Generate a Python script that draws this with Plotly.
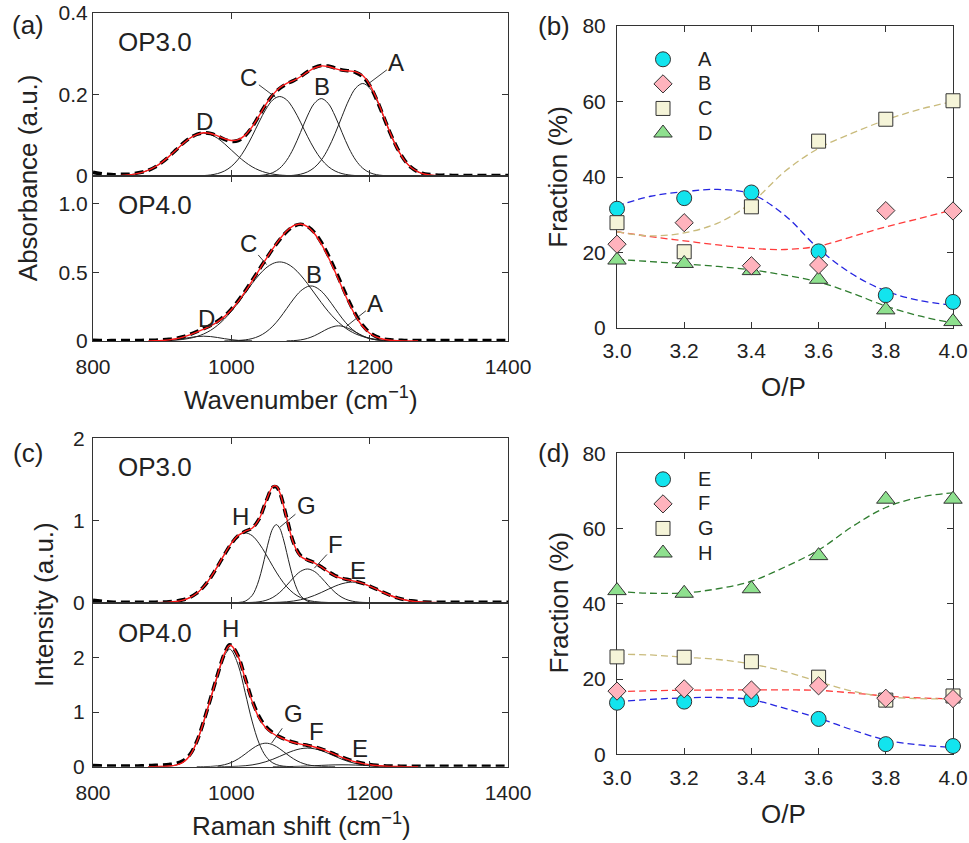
import plotly.graph_objects as go

W, H = 969, 843
FONT = "Liberation Sans, Arial, Helvetica, sans-serif"
INK = "#222222"

# ---------------- (a) IR absorbance, OP3.0 ----------------
wn_fit_a3 = [840, 850, 860, 870, 880, 890, 900, 910, 920, 930, 940, 950, 960, 970, 980, 990, 1000, 1010, 1020, 1030,
             1040, 1050, 1060, 1070, 1080, 1090, 1100, 1110, 1120, 1130, 1140, 1150, 1160, 1170, 1180, 1190, 1200,
             1210, 1220, 1230, 1240, 1250, 1260, 1270, 1280, 1290, 1300]
fit_a3 = [0.0012, 0.0024, 0.0046, 0.0084, 0.0142, 0.0227, 0.0341, 0.0481, 0.0637, 0.0793, 0.0927, 0.1017, 0.106,
          0.1043, 0.0986, 0.0915, 0.0871, 0.0892, 0.1003, 0.1205, 0.1475, 0.1756, 0.1997, 0.2165, 0.2272, 0.2341,
          0.2436, 0.2548, 0.265, 0.2701, 0.2686, 0.2635, 0.2591, 0.2578, 0.2557, 0.2465, 0.2244, 0.19, 0.1473,
          0.1043, 0.067, 0.039, 0.0207, 0.01, 0.0044, 0.0017, 0.0006]
wn_meas_a = [800, 810, 820, 830, 840, 850, 860, 870, 880, 890, 900, 910, 920, 930, 940, 950, 960, 970, 980, 990,
             1000, 1010, 1020, 1030, 1040, 1050, 1060, 1070, 1080, 1090, 1100, 1110, 1120, 1130, 1140, 1150, 1160,
             1170, 1180, 1190, 1200, 1210, 1220, 1230, 1240, 1250, 1260, 1270, 1280, 1290, 1300, 1310, 1320, 1330,
             1340, 1350, 1360, 1370, 1380, 1390, 1400]
meas_a3 = [0.009, 0.006, 0.004, 0.003, 0.004, 0.004, 0.006, 0.009, 0.014, 0.022, 0.034, 0.048, 0.064, 0.080, 0.093,
           0.102, 0.106, 0.104, 0.098, 0.090, 0.085, 0.087, 0.099, 0.120, 0.148, 0.176, 0.199, 0.215, 0.226, 0.234,
           0.244, 0.256, 0.266, 0.271, 0.270, 0.265, 0.260, 0.258, 0.254, 0.244, 0.222, 0.188, 0.146, 0.104, 0.068,
           0.040, 0.021, 0.010, 0.005, 0.003, 0.002, 0.002, 0.001, 0.001, 0.001, 0.001, 0.001, 0.001, 0.001, 0.001,
           0.001]
wn_a3_D = [840, 850, 860, 870, 880, 890, 900, 910, 920, 930, 940, 950, 960, 970, 980, 990, 1000, 1010, 1020, 1030,
           1040, 1050, 1060, 1070, 1080]
a3_D = [0.0012, 0.0024, 0.0046, 0.0084, 0.0142, 0.0227, 0.0341, 0.0481, 0.0637, 0.0793, 0.0927, 0.1017, 0.105,
        0.1017, 0.0927, 0.0793, 0.0637, 0.0481, 0.0341, 0.0227, 0.0142, 0.0084, 0.0046, 0.0024, 0.0012]
wn_a3_C = [960, 970, 980, 990, 1000, 1010, 1020, 1030, 1040, 1050, 1060, 1070, 1080, 1090, 1100, 1110, 1120, 1130,
           1140, 1150, 1160, 1170, 1180]
a3_C = [0.001, 0.0026, 0.0059, 0.0122, 0.0234, 0.0411, 0.0661, 0.0975, 0.1322, 0.164, 0.1868, 0.195, 0.1868, 0.164,
        0.1322, 0.0975, 0.0661, 0.0411, 0.0234, 0.0122, 0.0059, 0.0026, 0.001]
wn_a3_B = [1040, 1050, 1060, 1070, 1080, 1090, 1100, 1110, 1120, 1130, 1140, 1150, 1160, 1170, 1180, 1190, 1200,
           1210, 1220]
a3_B = [0.0011, 0.0032, 0.0083, 0.0191, 0.0386, 0.0684, 0.107, 0.1473, 0.1782, 0.19, 0.1782, 0.1473, 0.107, 0.0684,
        0.0386, 0.0191, 0.0083, 0.0032, 0.0011]
wn_a3_A = [1080, 1090, 1100, 1110, 1120, 1130, 1140, 1150, 1160, 1170, 1180, 1190, 1200, 1210, 1220, 1230, 1240,
           1250, 1260, 1270, 1280, 1290, 1300]
a3_A = [0.0006, 0.0017, 0.0044, 0.01, 0.0207, 0.039, 0.067, 0.104, 0.1462, 0.1868, 0.2161, 0.227, 0.2161, 0.1868,
        0.1462, 0.104, 0.067, 0.039, 0.0207, 0.01, 0.0044, 0.0017, 0.0006]

# ---------------- (a) IR absorbance, OP4.0 ----------------
wn_fit_a4 = [880, 890, 900, 910, 920, 930, 940, 950, 960, 970, 980, 990, 1000, 1010, 1020, 1030, 1040, 1050, 1060,
             1070, 1080, 1090, 1100, 1110, 1120, 1130, 1140, 1150, 1160, 1170, 1180, 1190, 1200, 1210, 1220, 1230,
             1240, 1250, 1260, 1270]
fit_a4 = [0.0006, 0.0016, 0.0038, 0.0082, 0.0161, 0.0284, 0.045, 0.0646, 0.0861, 0.1099, 0.1395, 0.1774, 0.2266,
          0.2881, 0.3588, 0.4358, 0.5154, 0.5951, 0.6715, 0.7414, 0.7999, 0.8387, 0.8509, 0.832, 0.7823, 0.7067,
          0.6113, 0.5032, 0.388, 0.2761, 0.1794, 0.1054, 0.0561, 0.0275, 0.0126, 0.0056, 0.0023, 0.0009, 0.0004,
          0.0001]
meas_a4 = [0.006, 0.004, 0.002, 0.003, 0.004, 0.003, 0.003, 0.004, 0.005, 0.006, 0.008, 0.012, 0.019, 0.031, 0.048,
           0.068, 0.090, 0.114, 0.144, 0.182, 0.232, 0.294, 0.364, 0.440, 0.518, 0.596, 0.670, 0.738, 0.795, 0.834,
           0.849, 0.834, 0.790, 0.718, 0.625, 0.518, 0.403, 0.289, 0.190, 0.113, 0.061, 0.031, 0.015, 0.008, 0.005,
           0.004, 0.003, 0.003, 0.003, 0.003, 0.003, 0.003, 0.003, 0.003, 0.003, 0.003, 0.003, 0.003, 0.003, 0.003,
           0.003]
wn_a4_D = [890, 900, 910, 920, 930, 940, 950, 960, 970, 980, 990, 1000, 1010, 1020, 1030]
a4_D = [0.0007, 0.002, 0.0047, 0.0097, 0.017, 0.0254, 0.0323, 0.035, 0.0323, 0.0254, 0.017, 0.0097, 0.0047, 0.002,
        0.0007]
wn_a4_C = [890, 900, 910, 920, 930, 940, 950, 960, 970, 980, 990, 1000, 1010, 1020, 1030, 1040, 1050, 1060, 1070,
           1080, 1090, 1100, 1110, 1120, 1130, 1140, 1150, 1160, 1170, 1180, 1190, 1200, 1210, 1220, 1230, 1240, 1250]
a4_C = [0.0009, 0.0018, 0.0035, 0.0064, 0.0114, 0.0196, 0.0323, 0.0511, 0.0776, 0.1139, 0.1599, 0.2156, 0.28,
        0.3487, 0.4175, 0.4801, 0.5307, 0.5635, 0.575, 0.5635, 0.5307, 0.4801, 0.4175, 0.3487, 0.28, 0.2156, 0.1599,
        0.1139, 0.0776, 0.0511, 0.0323, 0.0196, 0.0114, 0.0064, 0.0035, 0.0018, 0.0009]
wn_a4_B = [990, 1000, 1010, 1020, 1030, 1040, 1050, 1060, 1070, 1080, 1090, 1100, 1110, 1115, 1120, 1130, 1140, 1150,
           1160, 1170, 1180, 1190, 1200, 1210, 1220, 1230, 1240]
a4_B = [0.0005, 0.0013, 0.0034, 0.0081, 0.0176, 0.0351, 0.0644, 0.108, 0.1664, 0.2356, 0.3052, 0.3628, 0.3956, 0.40,
        0.3956, 0.3628, 0.3052, 0.2356, 0.1664, 0.108, 0.0644, 0.0351, 0.0176, 0.0081, 0.0034, 0.0013, 0.0005]
wn_a4_A = [1080, 1090, 1100, 1110, 1120, 1130, 1140, 1150, 1155, 1160, 1170, 1180, 1190, 1200, 1210, 1220, 1230]
a4_A = [0.0008, 0.0028, 0.008, 0.0189, 0.038, 0.0639, 0.0905, 0.1077, 0.11, 0.1077, 0.0905, 0.0639, 0.038, 0.0189,
        0.008, 0.0028, 0.0008]

# ---------------- (c) Raman, OP3.0 ----------------
wn_fit_c3 = [870, 880, 890, 900, 910, 920, 930, 940, 950, 960, 970, 980, 990, 1000, 1010, 1020, 1030, 1040, 1050,
             1060, 1065, 1070, 1080, 1090, 1100, 1110, 1120, 1130, 1140, 1150, 1160, 1170, 1180, 1190, 1200, 1210,
             1220, 1230, 1240, 1250, 1260, 1270, 1280, 1290, 1300, 1310]
fit_c3 = [0.0001, 0.0003, 0.0009, 0.0024, 0.0061, 0.0144, 0.0312, 0.0624, 0.1148, 0.1955, 0.306, 0.442, 0.589, 0.722,
          0.8186, 0.8692, 0.9064, 1.0134, 1.2305, 1.4134, 1.4175, 1.3414, 1.029, 0.7206, 0.5658, 0.5173, 0.4857,
          0.4351, 0.3766, 0.3277, 0.2957, 0.2764, 0.2587, 0.2349, 0.2023, 0.1637, 0.124, 0.0878, 0.0579, 0.0357,
          0.0205, 0.011, 0.0055, 0.0026, 0.0011, 0.0005]
wn_meas_c3 = [800, 810, 820, 830, 840, 850, 860, 870, 880, 890, 900, 910, 920, 930, 940, 950, 960, 970, 980, 990,
              1000, 1010, 1020, 1030, 1040, 1050, 1060, 1065, 1070, 1080, 1090, 1100, 1110, 1120, 1130, 1140, 1150,
              1160, 1170, 1180, 1190, 1200, 1210, 1220, 1230, 1240, 1250, 1260, 1270, 1280, 1290, 1300, 1310, 1320,
              1330, 1340, 1350, 1360, 1370, 1380, 1390, 1400]
meas_c3 = [0.03, 0.02, 0.01, 0.006, 0.005, 0.004, 0.004, 0.004, 0.005, 0.006, 0.008, 0.012, 0.02, 0.036, 0.066,
           0.117, 0.196, 0.305, 0.44, 0.585, 0.718, 0.815, 0.868, 0.908, 1.016, 1.228, 1.405, 1.41, 1.34, 1.035,
           0.728, 0.575, 0.522, 0.488, 0.436, 0.378, 0.33, 0.298, 0.278, 0.259, 0.235, 0.202, 0.164, 0.125, 0.089,
           0.059, 0.037, 0.022, 0.013, 0.008, 0.006, 0.005, 0.004, 0.004, 0.004, 0.004, 0.004, 0.004, 0.004, 0.004,
           0.004, 0.004]
wn_c3_H = [890, 900, 910, 920, 930, 940, 950, 960, 970, 980, 990, 1000, 1010, 1020, 1030, 1040, 1050, 1060, 1070,
           1080, 1090, 1100, 1110, 1120, 1130, 1140, 1150]
c3_H = [0.0009, 0.0024, 0.0061, 0.0144, 0.0312, 0.0624, 0.1148, 0.1955, 0.306, 0.442, 0.589, 0.7217, 0.816, 0.85,
        0.816, 0.7217, 0.589, 0.442, 0.306, 0.1955, 0.1148, 0.0624, 0.0312, 0.0144, 0.0061, 0.0024, 0.0009]
wn_c3_G = [1010, 1020, 1030, 1035, 1040, 1045, 1050, 1055, 1060, 1065, 1070, 1075, 1080, 1085, 1090, 1095, 1100,
           1110, 1120]
c3_G = [0.0026, 0.0182, 0.0868, 0.1634, 0.2803, 0.435, 0.6118, 0.782, 0.9044, 0.95, 0.9044, 0.782, 0.6118, 0.435,
        0.2803, 0.1634, 0.0868, 0.0182, 0.0026]
wn_c3_F = [1010, 1020, 1030, 1040, 1050, 1060, 1070, 1080, 1090, 1100, 1110, 1120, 1130, 1140, 1150, 1160, 1170,
           1180, 1190, 1200, 1210]
c3_F = [0.0002, 0.001, 0.0036, 0.0109, 0.0286, 0.0644, 0.1255, 0.2107, 0.305, 0.3809, 0.41, 0.3809, 0.305, 0.2107,
        0.1255, 0.0644, 0.0286, 0.0109, 0.0036, 0.001, 0.0002]
wn_c3_E = [1040, 1050, 1060, 1070, 1080, 1090, 1100, 1110, 1120, 1130, 1140, 1150, 1160, 1170, 1175, 1180, 1190,
           1200, 1210, 1220, 1230, 1240, 1250, 1260, 1270, 1280, 1290, 1300, 1310]
c3_E = [0.0005, 0.0011, 0.0026, 0.0055, 0.011, 0.0205, 0.0357, 0.0579, 0.0878, 0.124, 0.1635, 0.2013, 0.2313, 0.2478,
        0.25, 0.2478, 0.2313, 0.2013, 0.1635, 0.124, 0.0878, 0.0579, 0.0357, 0.0205, 0.011, 0.0055, 0.0026, 0.0011,
        0.0005]

# ---------------- (c) Raman, OP4.0 ----------------
wn_fit_c4 = [880, 890, 900, 910, 920, 930, 940, 950, 960, 970, 980, 990, 997, 1000, 1010, 1020, 1030, 1040, 1050,
             1060, 1070, 1080, 1090, 1100, 1110, 1120, 1130, 1140, 1150, 1160, 1170, 1180, 1190, 1200, 1210, 1220,
             1230, 1240, 1250, 1260, 1270]
fit_c4 = [0.001, 0.002, 0.005, 0.012, 0.03, 0.08, 0.2, 0.4505, 0.8217, 1.2453, 1.6756, 2.0682, 2.216, 2.2145, 2.0094,
          1.6074, 1.1949, 0.8905, 0.7096, 0.6075, 0.5388, 0.4842, 0.4431, 0.4132, 0.389, 0.3609, 0.3234, 0.2762,
          0.2238, 0.1713, 0.1249, 0.0865, 0.0571, 0.0358, 0.0214, 0.0121, 0.0065, 0.0033, 0.0016, 0.0006, 0.0002]
wn_meas_c4 = [800, 810, 820, 830, 840, 850, 860, 870, 880, 890, 900, 910, 920, 930, 940, 950, 960, 970, 980, 990,
              997, 1000, 1010, 1020, 1030, 1040, 1050, 1060, 1070, 1080, 1090, 1100, 1110, 1120, 1130, 1140, 1150,
              1160, 1170, 1180, 1190, 1200, 1210, 1220, 1230, 1240, 1250, 1260, 1270, 1280, 1290, 1300, 1310, 1320,
              1330, 1340, 1350, 1360, 1370, 1380, 1390, 1400]
meas_c4 = [0.02, 0.015, 0.01, 0.01, 0.01, 0.01, 0.012, 0.015, 0.02, 0.025, 0.03, 0.04, 0.06, 0.11, 0.22, 0.46, 0.83,
           1.25, 1.68, 2.07, 2.23, 2.22, 2.02, 1.62, 1.22, 0.92, 0.73, 0.62, 0.545, 0.49, 0.447, 0.416, 0.39, 0.362,
           0.325, 0.279, 0.227, 0.176, 0.13, 0.091, 0.062, 0.04, 0.026, 0.018, 0.013, 0.01, 0.009, 0.008, 0.008,
           0.007, 0.007, 0.007, 0.007, 0.007, 0.007, 0.007, 0.007, 0.007, 0.007, 0.007, 0.007, 0.007]
wn_c4_H = [880, 890, 900, 910, 920, 930, 940, 950, 960, 970, 980, 990, 997, 1000, 1010, 1020, 1030, 1040, 1050, 1060,
           1070, 1080, 1090]
c4_H = [0.001, 0.002, 0.005, 0.012, 0.03, 0.08, 0.2, 0.45, 0.82, 1.24, 1.66, 2.03, 2.15, 2.133, 1.857, 1.358, 0.835,
        0.432, 0.188, 0.069, 0.021, 0.005, 0.001]
wn_c4_G = [950, 960, 970, 980, 990, 1000, 1010, 1020, 1030, 1040, 1050, 1060, 1070, 1080, 1090, 1100, 1110, 1120,
           1130, 1140, 1150]
c4_G = [0.0005, 0.0017, 0.0053, 0.0149, 0.0364, 0.0774, 0.1436, 0.2318, 0.3268, 0.4016, 0.43, 0.4016, 0.3268,
        0.2318, 0.1436, 0.0774, 0.0364, 0.0149, 0.0053, 0.0017, 0.0005]
wn_c4_F = [980, 990, 1000, 1010, 1020, 1030, 1040, 1050, 1060, 1070, 1080, 1090, 1100, 1110, 1120, 1130, 1140, 1150,
           1160, 1170, 1180, 1190, 1200, 1210, 1220, 1230, 1240]
c4_F = [0.0007, 0.0018, 0.0041, 0.0088, 0.0176, 0.0328, 0.0568, 0.0913, 0.1363, 0.1897, 0.2448, 0.2938, 0.3278, 0.34,
        0.3278, 0.2938, 0.2448, 0.1897, 0.1363, 0.0913, 0.0568, 0.0328, 0.0176, 0.0088, 0.0041, 0.0018, 0.0007]
wn_c4_E = [1060, 1070, 1080, 1090, 1100, 1110, 1120, 1130, 1140, 1150, 1160, 1170, 1180, 1190, 1200, 1210, 1220,
           1230, 1240, 1250, 1260]
c4_E = [0.0006, 0.0013, 0.0026, 0.0047, 0.008, 0.0126, 0.0182, 0.0243, 0.0297, 0.0336, 0.035, 0.0336, 0.0297,
        0.0243, 0.0182, 0.0126, 0.008, 0.0047, 0.0026, 0.0013, 0.0006]

# ---------------- (b) IR peak fractions ----------------
op = [3.0, 3.2, 3.4, 3.6, 3.8, 4.0]
frac_A = [31.6, 34.4, 35.9, 20.3, 8.7, 6.9]
frac_B = [22.2, 27.9, 16.5, 16.7, 31.1, 31.0]
frac_C = [27.9, 20.2, 32.1, 49.5, 55.3, 60.2]
frac_D = [18.0, 17.1, 15.2, 12.9, 4.8, 1.7]
op_fit = [3.0, 3.1, 3.2, 3.3, 3.4, 3.5, 3.6, 3.7, 3.8, 3.9, 4.0]
trend_A = [32.3, 34.9, 36.1, 36.7, 35.5, 29.8, 21.0, 14.3, 9.8, 7.3, 6.0]
trend_B = [25.5, 24.2, 23.1, 22.0, 21.1, 20.8, 21.7, 24.2, 26.8, 29.0, 31.3]
trend_C = [25.5, 24.4, 25.2, 27.8, 33.2, 41.5, 47.6, 51.6, 55.1, 57.9, 60.0]
trend_D = [18.2, 17.6, 17.0, 16.3, 15.4, 14.0, 12.2, 9.2, 5.8, 3.2, 1.3]

# ---------------- (d) Raman peak fractions ----------------
frac_E = [13.7, 14.0, 14.6, 9.4, 2.7, 2.2]
frac_F = [16.8, 17.4, 17.1, 18.2, 14.9, 14.8]
frac_G = [25.9, 25.8, 24.6, 20.5, 14.4, 15.5]
frac_H = [43.5, 42.8, 44.0, 52.8, 67.8, 67.8]
trend_E = [14.0, 14.6, 15.0, 15.1, 14.5, 12.2, 9.6, 6.5, 3.8, 2.5, 1.8]
trend_F = [16.6, 16.9, 17.0, 17.1, 17.1, 17.1, 17.0, 16.3, 15.5, 15.0, 14.7]
trend_G = [26.6, 26.4, 25.8, 25.2, 24.0, 22.0, 19.3, 16.8, 15.3, 14.8, 14.7]
trend_H = [43.3, 42.8, 42.9, 44.0, 46.0, 49.8, 54.3, 60.5, 65.6, 68.3, 69.5]


def px(xp, yp):
    return xp / W, 1 - yp / H


fig = go.Figure()


def line(x, y, ax, color, width, dash=None):
    fig.add_trace(go.Scatter(x=x, y=y, mode="lines", xaxis="x" + ax, yaxis="y" + ax, showlegend=False,
                             hoverinfo="skip",
                             line=dict(color=color, width=width, dash=dash, shape="spline", smoothing=1.0)))


def spectrum(ax, comps, fx, fy, mx, my):
    for cx, cy in comps:
        line(cx, cy, ax, INK, 1.0)
    line(mx, my, ax, "#000000", 3.6, "9px,5px")
    line(fx, fy, ax, "#ff1a1a", 1.4)


spectrum("1", [(wn_a3_D, a3_D), (wn_a3_C, a3_C), (wn_a3_B, a3_B), (wn_a3_A, a3_A)],
         wn_fit_a3, fit_a3, wn_meas_a, meas_a3)
spectrum("2", [(wn_a4_D, a4_D), (wn_a4_C, a4_C), (wn_a4_B, a4_B), (wn_a4_A, a4_A)],
         wn_fit_a4, fit_a4, wn_meas_a, meas_a4)
spectrum("4", [(wn_c3_H, c3_H), (wn_c3_G, c3_G), (wn_c3_F, c3_F), (wn_c3_E, c3_E)],
         wn_fit_c3, fit_c3, wn_meas_c3, meas_c3)
spectrum("5", [(wn_c4_H, c4_H), (wn_c4_G, c4_G), (wn_c4_F, c4_F), (wn_c4_E, c4_E)],
         wn_fit_c4, fit_c4, wn_meas_c4, meas_c4)

STY = [  # symbol, fill, size, trend colour, legend rank, drawing order
    ("circle", "#12e4ee", 15, "#2424e0", 1, 0),
    ("diamond", "#ffb3bd", 14, "#ff3b3b", 2, 3),
    ("square", "#f5f4d8", 14, "#c9bb7c", 3, 1),
    ("triangle-up", "#8ee08e", 16, "#2f7d2f", 4, 2),
]


def fractions(ax, legend, names, fracs, trends):
    for st, tr in zip(STY, trends):
        line(op_fit, tr, ax, st[3], 1.3, "7px,4px")
    items = sorted(zip(STY, names, fracs), key=lambda it: it[0][5])
    for (sym, fill, size, tcol, rank, _), name, fr in items:
        fig.add_trace(go.Scatter(x=op, y=fr, mode="markers", xaxis="x" + ax, yaxis="y" + ax,
                                 name="<span style='font-size:20px'>" + name + "</span>",
                                 legend=legend, legendrank=rank, cliponaxis=False, hoverinfo="skip",
                                 marker=dict(symbol=sym, size=size, color=fill,
                                             line=dict(color="#333333", width=1))))


fractions("3", "legend", ["A", "B", "C", "D"], [frac_A, frac_B, frac_C, frac_D],
          [trend_A, trend_B, trend_C, trend_D])
fractions("6", "legend2", ["E", "F", "G", "H"], [frac_E, frac_F, frac_G, frac_H],
          [trend_E, trend_F, trend_G, trend_H])


def dom_x(a, b):
    return [a / W, b / W]


def dom_y(top, bottom):
    return [1 - bottom / H, 1 - top / H]


base = dict(showline=True, linecolor="#333333", linewidth=1, mirror="ticks", ticks="inside", ticklen=6,
            tickwidth=1, tickcolor="#333333", showgrid=False, zeroline=False, automargin=False,
            tickfont=dict(family=FONT, size=21, color=INK))

spec_x = dict(base, range=[800, 1400], tickvals=[800, 1000, 1200, 1400], domain=dom_x(93, 508))
frac_x = dict(base, range=[3.0, 4.0], tickvals=[3.0, 3.2, 3.4, 3.6, 3.8, 4.0],
              ticktext=["3.0", "3.2", "3.4", "3.6", "3.8", "4.0"], domain=dom_x(617, 953),
              layer="below traces", ticklabelstandoff=4)
frac_y = dict(base, range=[0, 80], tickvals=[0, 20, 40, 60, 80], layer="below traces", ticklabelstandoff=6)

leg = dict(xanchor="left", yanchor="top", bgcolor="rgba(0,0,0,0)", borderwidth=0,
           font=dict(family=FONT, size=16.6, color=INK), itemwidth=60, tracegroupgap=0, traceorder="normal")

fig.update_layout(
    template="none",
    width=W, height=H, margin=dict(l=0, r=0, t=0, b=0, autoexpand=False),
    paper_bgcolor="white", plot_bgcolor="white",
    font=dict(family=FONT, color=INK),
    showlegend=True,
    xaxis=dict(spec_x, anchor="y", showticklabels=False),
    yaxis=dict(base, range=[0, 0.4], tickvals=[0, 0.2, 0.4], ticktext=["0", "0.2", "0.4"],
               domain=dom_y(13, 176), anchor="x", ticklabelstandoff=0),
    xaxis2=dict(spec_x, anchor="y2", ticklabelstandoff=7),
    yaxis2=dict(base, range=[0, 1.2], tickvals=[0, 0.5, 1.0], ticktext=["0", "0.5", "1.0"],
                domain=dom_y(176, 341), anchor="x2", ticklabelstandoff=0),
    xaxis3=dict(frac_x, anchor="y3"),
    yaxis3=dict(frac_y, domain=dom_y(26, 328), anchor="x3"),
    xaxis4=dict(spec_x, anchor="y4", showticklabels=False),
    yaxis4=dict(base, range=[0, 2], tickvals=[0, 1, 2], domain=dom_y(438.3, 602.7), anchor="x4",
                ticklabelstandoff=3),
    xaxis5=dict(spec_x, anchor="y5", ticklabelstandoff=7),
    yaxis5=dict(base, range=[0, 3], tickvals=[0, 1, 2], domain=dom_y(602.7, 766.7), anchor="x5",
                ticklabelstandoff=3),
    xaxis6=dict(frac_x, anchor="y6"),
    yaxis6=dict(frac_y, domain=dom_y(453.3, 754.3), anchor="x6"),
    legend=dict(leg, x=px(628, 0)[0], y=px(0, 42)[1]),
    legend2=dict(leg, x=px(628, 0)[0], y=px(0, 462)[1]),
)

ann = []


def text(t, xp, yp, size, angle=0):
    x, y = px(xp, yp)
    ann.append(dict(text=t, x=x, y=y, xref="paper", yref="paper", showarrow=False, xanchor="center",
                    yanchor="middle", textangle=angle, font=dict(family=FONT, size=size, color=INK)))


def lead(t, ax, xv, yv, dx, dy, size=24):
    ann.append(dict(text=t, x=xv, y=yv, xref="x" + ax, yref="y" + ax, showarrow=True, arrowhead=0,
                    arrowwidth=0.9, arrowcolor=INK, ax=dx, ay=dy, standoff=0,
                    font=dict(family=FONT, size=size, color=INK)))


# panel labels
text("(a)", 27.5, 25.5, 26)
text("(b)", 554, 26.5, 26)
text("(c)", 27.5, 453.3, 26)
text("(d)", 554, 452.5, 26)
# sample labels
text("OP3.0", 154.5, 41.7, 26)
text("OP4.0", 154.5, 205, 26)
text("OP3.0", 154.5, 466.7, 26)
text("OP4.0", 154.5, 633.3, 26)
# component letters
text("D", 204, 121.7, 24)
text("B", 322.3, 86, 24)
lead("C", "1", 1064, 0.193, -26.7, -20)
lead("A", "1", 1199, 0.2275, 27.4, -20.6)
lead("C", "2", 1051, 0.556, -18.4, -21)
text("B", 314.3, 275, 24)
lead("A", "2", 1166, 0.105, 29.3, -23.4)
text("D", 206, 318.3, 24)
text("H", 240, 516.7, 24)
lead("G", "4", 1070, 0.917, 26.7, -22.3)
lead("F", "4", 1120, 0.42, 21.6, -23.4)
text("E", 358.3, 570, 24)
text("H", 230.7, 628.3, 24)
lead("G", "5", 1058, 0.428, 21.6, -30)
text("F", 316.7, 731.7, 24)
text("E", 360, 748.3, 24)
# axis titles
text("Wavenumber (cm<sup>\u22121</sup>)", 301, 399, 26)
text("Raman shift (cm<sup>\u22121</sup>)", 301, 824, 26)
text("O/P", 783, 387, 26)
text("O/P", 783, 814, 26)
text("Absorbance (a.u.)", 27.7, 177.5, 26, -90)
text("Intensity (a.u.)", 44, 605, 26, -90)
text("Fraction (%)", 558, 176.7, 26, -90)
text("Fraction (%)", 558, 602.5, 26, -90)

fig.update_layout(annotations=ann)
fig.write_html("out.html", config={"displayModeBar": False, "staticPlot": True},
               post_script="document.body.style.margin='0px';document.body.style.overflow='hidden';")
